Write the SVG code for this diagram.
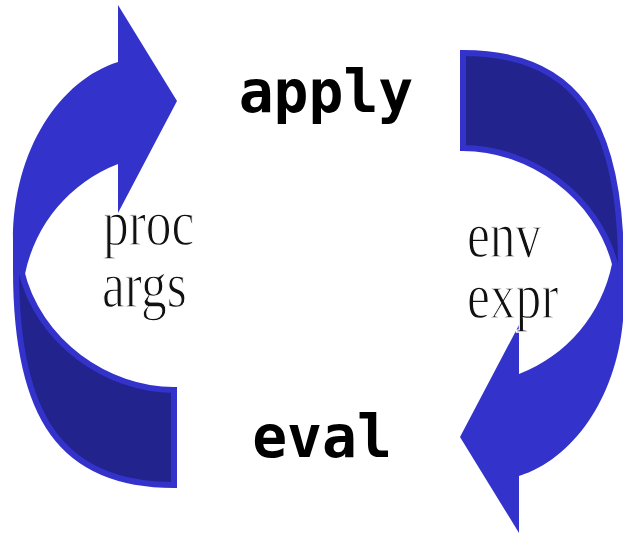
<svg xmlns="http://www.w3.org/2000/svg" xmlns:xlink="http://www.w3.org/1999/xlink" width="623" height="535" viewBox="0 0 623 535">
  <style>
    .light { fill: #3333cc; }
    .dark { fill: #23238e; stroke: #3333cc; stroke-width: 6; stroke-linejoin: miter; }
    .kw { font-family: "DejaVu Sans Mono", "Liberation Mono", monospace; font-weight: bold; font-size: 58px; fill: #000; text-anchor: middle; }
    .lbl { font-family: "Liberation Serif", "DejaVu Serif", serif; font-size: 66px; fill: #111; stroke: #fff; stroke-width: 1.3px; }
  </style>
  <defs>
    <g id="arc">
      <path class="dark" d="M 174 390 L 174 485 C 62 485 16 418 16 270 L 16 250 L 26 250 L 21 270 C 38 343 108 390 174 390 Z"/>
      <path class="light" d="M 118 5 L 177 101 L 118 213 L 118 164 A 150 150 0 0 0 25 274 L 13 274 L 13 240 C 13 150 60 80 118 62 Z"/>
    </g>
  </defs>
  <g id="connectors">
    <use id="arc-left" xlink:href="#arc" href="#arc"/>
    <use id="arc-right" xlink:href="#arc" href="#arc" transform="rotate(180 318.5 269)"/>
  </g>
  <g id="node-apply">
    <text class="kw" x="326" y="112">apply</text>
  </g>
  <g id="node-eval">
    <text class="kw" x="322" y="457">eval</text>
  </g>
  <g id="label-left">
    <text class="lbl" transform="translate(103 245) scale(0.78 1)">proc</text>
    <text class="lbl" transform="translate(102 307) scale(0.78 1)">args</text>
  </g>
  <g id="label-right">
    <text class="lbl" transform="translate(467 257) scale(0.78 1)">env</text>
    <text class="lbl" transform="translate(467 318) scale(0.78 1)">expr</text>
  </g>
</svg>
